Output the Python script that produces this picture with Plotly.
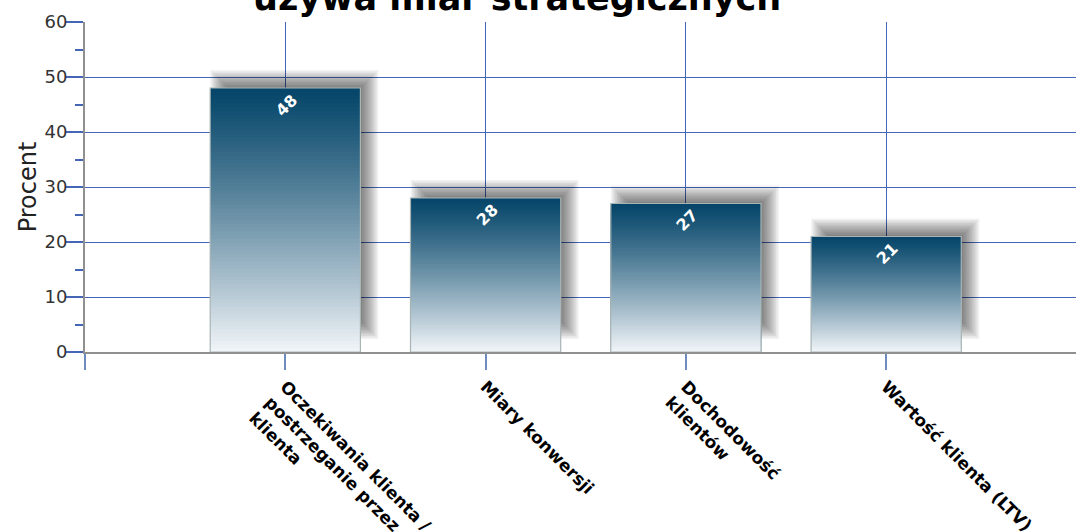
import plotly.graph_objects as go

# ---- data ----
categories = [
    "Oczekiwania klienta /<br>postrzeganie przez<br>klienta",
    "Miary konwersji",
    "Dochodowość<br>klientów",
    "Wartość klienta (LTV)",
]
values = [48, 28, 27, 21]
y_ticks = [0, 10, 20, 30, 40, 50, 60]
title_text = "używa miar strategicznych"
y_title = "Procent"

positions = list(range(1, len(categories) + 1))
BAR_W = 0.75
PX_X = 200.3          # px per x unit
PX_Y = 5.5            # px per y unit

fig = go.Figure()

# ---- soft shadow (offset up/right, layered to imitate blur) ----
dx_px, dy_px, lift_px = 9, 9, 22
for i in range(13):
    e_px = -9 + i * 1.5
    w = BAR_W + 2 * e_px / PX_X
    fig.add_trace(go.Bar(
        x=positions,
        y=[v + (dy_px + e_px) / PX_Y - (lift_px - e_px) / PX_Y for v in values],
        base=[(lift_px - e_px) / PX_Y for _ in values],
        width=w,
        offset=-w / 2 + dx_px / PX_X,
        marker=dict(color="rgba(0,0,0,0.052)", line=dict(width=0)),
        hoverinfo="skip", showlegend=False,
    ))

# ---- vertical gradient (dark top -> light bottom) ----
top = (6, 70, 106)
bot = (244, 247, 250)
N = 70
for k in range(N):
    frac = (N - k) / N                      # fraction of bar height
    t = (1 - frac) ** 1.15                  # 0 at top -> 1 at bottom
    c = tuple(round(top[i] + (bot[i] - top[i]) * t) for i in range(3))
    fig.add_trace(go.Bar(
        x=positions,
        y=[v * frac for v in values],
        width=BAR_W,
        marker=dict(color=f"rgb{c}", line=dict(width=0)),
        hoverinfo="skip", showlegend=False,
    ))

# ---- outline ----
fig.add_trace(go.Bar(
    x=positions, y=values, width=BAR_W,
    marker=dict(color="rgba(0,0,0,0)", line=dict(color="#a9b5b5", width=1.2)),
    hovertemplate="%{y}<extra></extra>", showlegend=False,
))

# ---- value labels ----
for p, v in zip(positions, values):
    fig.add_annotation(
        x=p, y=v, xref="x", yref="y", text=f"<b>{v}</b>",
        showarrow=False, textangle=-45, yanchor="middle", yshift=-17, xshift=1,
        font=dict(family="DejaVu Sans", size=16, color="white"),
    )

# ---- title (mostly cut off at top, as in reference) ----
fig.add_annotation(
    x=0.436, y=1, xref="paper", yref="paper", text=f"<b>{title_text}</b>",
    showarrow=False, xanchor="center", yanchor="bottom", yshift=2,
    font=dict(family="DejaVu Sans", size=35, color="black"),
)

grid_blue = "#4466b4"
fig.update_layout(
    width=1076, height=532,
    margin=dict(l=85, r=0, t=22, b=180),
    paper_bgcolor="white", plot_bgcolor="white",
    barmode="overlay",
    showlegend=False,
)
fig.update_xaxes(
    range=[0, 991 / PX_X],
    tickvals=[0] + positions,
    ticktext=[""] + categories,
    tickangle=45,
    tickfont=dict(family="DejaVu Sans", size=17, color="black", weight="bold"),
    showgrid=True, gridcolor=grid_blue, gridwidth=1.2,
    ticks="outside", ticklen=16, tickcolor="#6f8cc0", tickwidth=1.5,
    showline=True, linecolor="#909090", linewidth=2,
    zeroline=False, fixedrange=True, automargin=False,
)
fig.update_yaxes(
    range=[0, 60],
    tickvals=y_ticks,
    tickfont=dict(family="DejaVu Sans", size=18, color="#333333"),
    ticklabelstandoff=-5,
    showgrid=True, gridcolor=grid_blue, gridwidth=1.2,
    ticks="outside", ticklen=17, tickcolor=grid_blue, tickwidth=1.5,
    minor=dict(dtick=5, ticks="outside", ticklen=8, tickcolor=grid_blue, showgrid=False),
    showline=True, linecolor="#909090", linewidth=2,
    zeroline=False, fixedrange=True, automargin=False,
    title=dict(text=y_title, font=dict(family="DejaVu Sans", size=24, color="#222222"), standoff=1),
)

fig.write_html("out.html")
